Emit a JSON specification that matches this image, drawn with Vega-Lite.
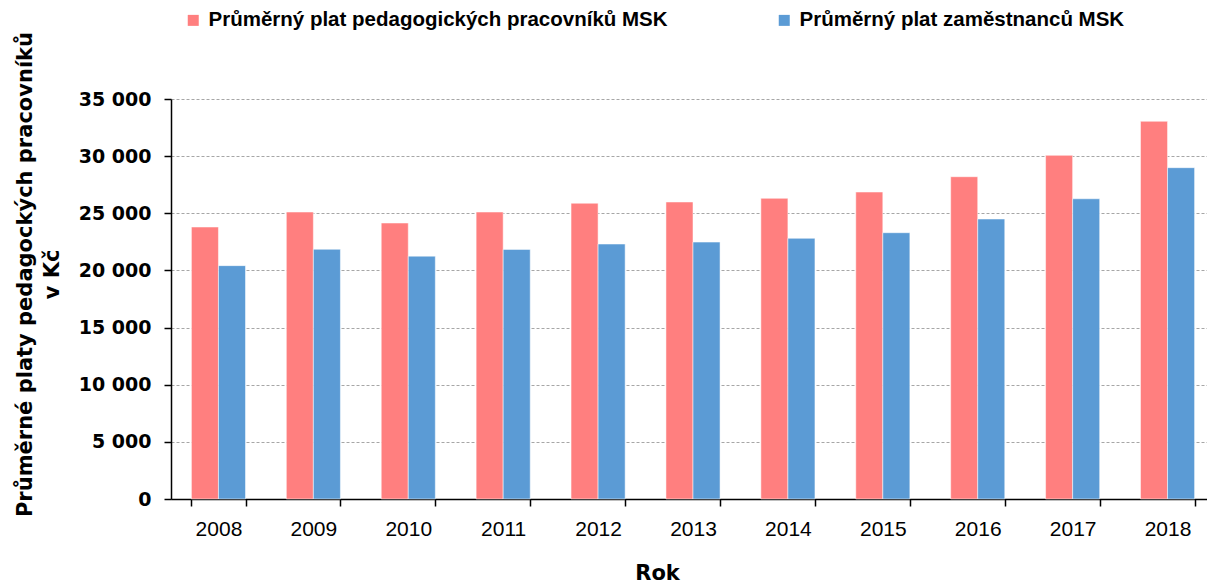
{
  "$schema": "https://vega.github.io/schema/vega-lite/v6.json",
  "width": 1036,
  "height": 400,
  "autosize": {"type": "none"},
  "padding": {"left": 171, "top": 99, "right": 0, "bottom": 85},
  "background": "white",
  "config": {"view": {"stroke": null}},
  "data": {"values": [
    {"rok": "2008", "serie": "Průměrný plat pedagogických pracovníků MSK", "plat": 23800},
    {"rok": "2008", "serie": "Průměrný plat zaměstnanců MSK", "plat": 20420},
    {"rok": "2009", "serie": "Průměrný plat pedagogických pracovníků MSK", "plat": 25110},
    {"rok": "2009", "serie": "Průměrný plat zaměstnanců MSK", "plat": 21850},
    {"rok": "2010", "serie": "Průměrný plat pedagogických pracovníků MSK", "plat": 24150},
    {"rok": "2010", "serie": "Průměrný plat zaměstnanců MSK", "plat": 21250},
    {"rok": "2011", "serie": "Průměrný plat pedagogických pracovníků MSK", "plat": 25110},
    {"rok": "2011", "serie": "Průměrný plat zaměstnanců MSK", "plat": 21840},
    {"rok": "2012", "serie": "Průměrný plat pedagogických pracovníků MSK", "plat": 25880},
    {"rok": "2012", "serie": "Průměrný plat zaměstnanců MSK", "plat": 22310},
    {"rok": "2013", "serie": "Průměrný plat pedagogických pracovníků MSK", "plat": 25990},
    {"rok": "2013", "serie": "Průměrný plat zaměstnanců MSK", "plat": 22480},
    {"rok": "2014", "serie": "Průměrný plat pedagogických pracovníků MSK", "plat": 26310},
    {"rok": "2014", "serie": "Průměrný plat zaměstnanců MSK", "plat": 22810},
    {"rok": "2015", "serie": "Průměrný plat pedagogických pracovníků MSK", "plat": 26860},
    {"rok": "2015", "serie": "Průměrný plat zaměstnanců MSK", "plat": 23300},
    {"rok": "2016", "serie": "Průměrný plat pedagogických pracovníků MSK", "plat": 28200},
    {"rok": "2016", "serie": "Průměrný plat zaměstnanců MSK", "plat": 24500},
    {"rok": "2017", "serie": "Průměrný plat pedagogických pracovníků MSK", "plat": 30070},
    {"rok": "2017", "serie": "Průměrný plat zaměstnanců MSK", "plat": 26270},
    {"rok": "2018", "serie": "Průměrný plat pedagogických pracovníků MSK", "plat": 33050},
    {"rok": "2018", "serie": "Průměrný plat zaměstnanců MSK", "plat": 28990}
  ]},
  "mark": {"type": "bar", "stroke": "white", "strokeOpacity": 0.5, "strokeWidth": 1},
  "encoding": {
    "x": {
      "field": "rok", "type": "nominal",
      "scale": {"range": [0, 1044], "paddingInner": 0.43, "paddingOuter": 0.215},
      "axis": {
        "title": "Rok",
        "titleFont": "DejaVu Sans", "titleFontSize": 21, "titleFontWeight": "bold", "titleColor": "black",
        "titleX": 486, "titleY": 80, "titleBaseline": "alphabetic", "titleAnchor": "start", "titleAlign": "center",
        "labelAngle": 0, "labelFont": "Liberation Sans", "labelFontSize": 21, "labelColor": "black",
        "labelPadding": 12,
        "domainColor": "black", "domainWidth": 1.5,
        "tickBand": "extent", "tickColor": "black", "tickSize": 7, "tickWidth": 1.5,
        "grid": false
      }
    },
    "xOffset": {
      "field": "serie", "type": "nominal",
      "sort": ["Průměrný plat pedagogických pracovníků MSK", "Průměrný plat zaměstnanců MSK"],
      "scale": {"paddingInner": 0, "paddingOuter": 0}
    },
    "y": {
      "field": "plat", "type": "quantitative",
      "scale": {"domain": [0, 35000], "nice": false},
      "axis": {
        "title": ["Průměrné platy pedagockých pracovníků", "v Kč"],
        "titleFont": "DejaVu Sans", "titleFontSize": 21, "titleFontWeight": "bold", "titleColor": "black",
        "titleAngle": -90, "titleX": -140, "titleY": 175, "titleAlign": "center", "titleBaseline": "alphabetic",
        "titleLineHeight": 27,
        "values": [0, 5000, 10000, 15000, 20000, 25000, 30000, 35000],
        "labelExpr": "replace(format(datum.value, ',d'), ',', ' ')",
        "labelFont": "DejaVu Sans", "labelFontSize": 19, "labelFontWeight": "bold", "labelColor": "black",
        "labelPadding": 13,
        "domainColor": "black", "domainWidth": 1.5,
        "tickColor": "black", "tickSize": 7, "tickWidth": 1.5,
        "grid": true, "gridColor": "#a6a6a6", "gridDash": [3, 2], "gridWidth": 1
      }
    },
    "color": {
      "field": "serie", "type": "nominal",
      "sort": ["Průměrný plat pedagogických pracovníků MSK", "Průměrný plat zaměstnanců MSK"],
      "scale": {"range": ["#ff7f7f", "#5b9bd5"]},
      "legend": {
        "title": null, "orient": "none", "direction": "horizontal",
        "legendX": 12, "legendY": -89,
        "symbolType": "square", "symbolSize": 121, "symbolStrokeWidth": 0,
        "labelFont": "Liberation Sans", "labelFontSize": 20.5, "labelFontWeight": "bold", "labelColor": "black",
        "labelOffset": 5, "columnPadding": 106, "labelLimit": 800
      }
    }
  }
}
